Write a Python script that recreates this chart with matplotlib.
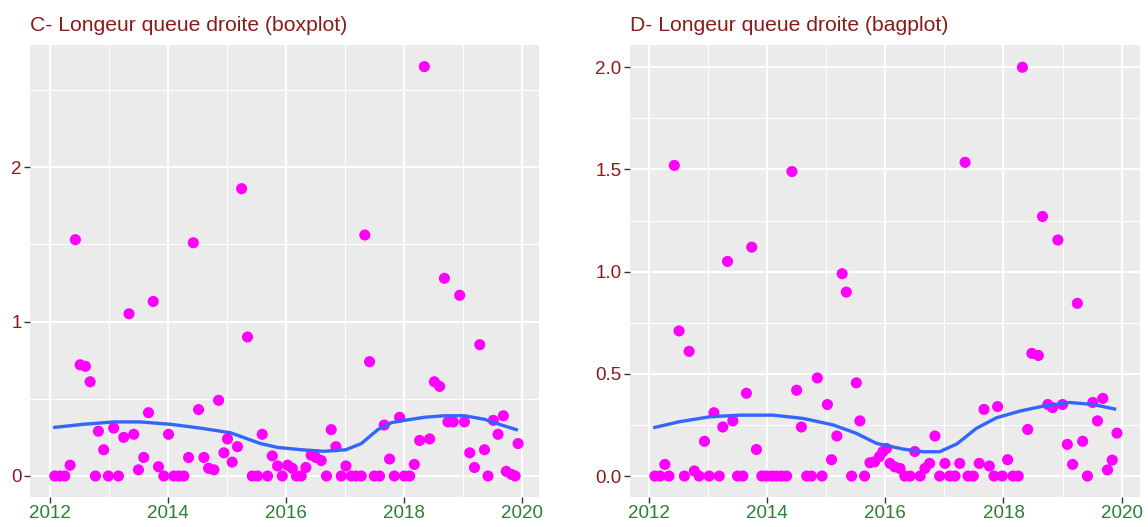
# Longueur queue droite : nuages de points + courbe lissée (deux panneaux)
import matplotlib
matplotlib.use("Agg")
import matplotlib.pyplot as plt
import numpy as np

# ---- panneau C (boxplot) : dates en années décimales
dates_c = [2012.08, 2012.17, 2012.25, 2012.34, 2012.43, 2012.51, 2012.60, 2012.68, 2012.77, 2012.82,
           2012.91, 2012.99, 2013.08, 2013.16, 2013.25, 2013.34, 2013.42, 2013.50, 2013.59, 2013.67,
           2013.75, 2013.84, 2013.93, 2014.01, 2014.10, 2014.18, 2014.27, 2014.35, 2014.43, 2014.52,
           2014.61, 2014.69, 2014.78, 2014.86, 2014.95, 2015.01, 2015.09, 2015.18, 2015.25, 2015.35,
           2015.43, 2015.52, 2015.60, 2015.69, 2015.77, 2015.86, 2015.94, 2016.03, 2016.11, 2016.18,
           2016.26, 2016.34, 2016.43, 2016.51, 2016.60, 2016.69, 2016.77, 2016.85, 2016.94, 2017.02,
           2017.11, 2017.19, 2017.28, 2017.34, 2017.42, 2017.50, 2017.59, 2017.67, 2017.76, 2017.84,
           2017.93, 2018.01, 2018.10, 2018.18, 2018.27, 2018.35, 2018.44, 2018.52, 2018.61, 2018.69,
           2018.75, 2018.84, 2018.95, 2019.03, 2019.12, 2019.20, 2019.29, 2019.37, 2019.43, 2019.52,
           2019.60, 2019.69, 2019.74, 2019.83, 2019.89, 2019.94]
vals_c = [0, 0, 0, 0.07, 1.53, 0.72, 0.71, 0.61, 0, 0.29,
          0.17, 0, 0.31, 0, 0.25, 1.05, 0.27, 0.04, 0.12, 0.41,
          1.13, 0.06, 0, 0.27, 0, 0, 0, 0.12, 1.51, 0.43,
          0.12, 0.05, 0.04, 0.49, 0.15, 0.24, 0.09, 0.19, 1.86, 0.90,
          0, 0, 0.27, 0, 0.13, 0.065, 0, 0.07, 0.05, 0,
          0, 0.055, 0.135, 0.12, 0.10, 0, 0.30, 0.19, 0, 0.065,
          0, 0, 0, 1.56, 0.74, 0, 0, 0.33, 0.11, 0,
          0.38, 0, 0, 0.075, 0.23, 2.65, 0.24, 0.61, 0.58, 1.28,
          0.35, 0.35, 1.17, 0.35, 0.15, 0.055, 0.85, 0.17, 0, 0.36,
          0.27, 0.39, 0.03, 0.01, 0, 0.21]
# courbe lissée
smooth_c_x = [2012.08, 2012.57, 2013.08, 2013.53, 2014.04, 2014.55, 2015.06, 2015.57, 2015.86,
              2016.26, 2016.65, 2017.02, 2017.28, 2017.56, 2017.79, 2018.01, 2018.35, 2018.69,
              2019.03, 2019.37, 2019.66, 2019.91]
smooth_c_y = [0.315, 0.335, 0.35, 0.35, 0.335, 0.31, 0.28, 0.21, 0.185,
              0.17, 0.16, 0.17, 0.21, 0.30, 0.345, 0.36, 0.38, 0.39,
              0.39, 0.367, 0.33, 0.30]

# ---- panneau D (bagplot)
dates_d = [2012.10, 2012.19, 2012.27, 2012.34, 2012.43, 2012.51, 2012.60, 2012.68, 2012.77, 2012.85,
           2012.94, 2013.02, 2013.10, 2013.19, 2013.25, 2013.33, 2013.42, 2013.50, 2013.59, 2013.65,
           2013.74, 2013.82, 2013.91, 2013.99, 2014.08, 2014.16, 2014.24, 2014.33, 2014.42, 2014.50,
           2014.58, 2014.67, 2014.75, 2014.85, 2014.93, 2015.02, 2015.09, 2015.18, 2015.27, 2015.34,
           2015.43, 2015.51, 2015.57, 2015.65, 2015.74, 2015.82, 2015.90, 2015.96, 2016.02, 2016.08,
           2016.16, 2016.25, 2016.33, 2016.42, 2016.50, 2016.59, 2016.67, 2016.75, 2016.84, 2016.92,
           2017.01, 2017.09, 2017.18, 2017.26, 2017.35, 2017.40, 2017.49, 2017.59, 2017.67, 2017.76,
           2017.84, 2017.90, 2017.98, 2018.07, 2018.16, 2018.25, 2018.32, 2018.41, 2018.48, 2018.59,
           2018.66, 2018.75, 2018.83, 2018.92, 2019.00, 2019.08, 2019.17, 2019.25, 2019.34, 2019.42,
           2019.51, 2019.59, 2019.68, 2019.76, 2019.84, 2019.92]
vals_d = [0, 0, 0.057, 0, 1.52, 0.71, 0, 0.61, 0.025, 0,
          0.17, 0, 0.31, 0, 0.24, 1.05, 0.27, 0, 0, 0.405,
          1.12, 0.13, 0, 0, 0, 0, 0, 0, 1.49, 0.42,
          0.24, 0, 0, 0.48, 0, 0.35, 0.08, 0.196, 0.99, 0.90,
          0, 0.456, 0.27, 0, 0.065, 0.07, 0.095, 0.12, 0.135, 0.062,
          0.045, 0.037, 0, 0, 0.12, 0, 0.037, 0.062, 0.196, 0,
          0.062, 0, 0, 0.062, 1.535, 0, 0, 0.062, 0.326, 0.049,
          0, 0.34, 0, 0.08, 0, 0, 2.0, 0.228, 0.60, 0.59,
          1.27, 0.35, 0.335, 1.155, 0.35, 0.155, 0.057, 0.845, 0.17, 0,
          0.36, 0.27, 0.38, 0.03, 0.078, 0.21]
smooth_d_x = [2012.10, 2012.52, 2013.03, 2013.54, 2014.10, 2014.61, 2015.12, 2015.51, 2015.85,
              2016.30, 2016.64, 2016.92, 2017.21, 2017.54, 2017.88, 2018.28, 2018.67, 2019.12,
              2019.52, 2019.88]
smooth_d_y = [0.238, 0.266, 0.29, 0.298, 0.298, 0.282, 0.25, 0.209, 0.16,
              0.132, 0.119, 0.119, 0.157, 0.233, 0.285, 0.318, 0.342, 0.36,
              0.35, 0.328]

titre_c = "C- Longeur queue droite (boxplot)"
titre_d = "D- Longeur queue droite (bagplot)"

plt.rcParams['font.family'] = ['Liberation Sans', 'DejaVu Sans']

W, H = 1148, 527
fig = plt.figure(figsize=(W / 100, H / 100), dpi=100)
fig.patch.set_facecolor('white')

rouge = '#8B1A1A'
vert = '#2E7D32'


def panneau(rect, x, y, sx, sy, xlim, ylim, yticks, yminor, ylabels, titre, tx):
    ax = fig.add_axes(rect)
    ax.set_facecolor('#EBEBEB')
    for s in ax.spines.values():
        s.set_visible(False)
    ax.set_xticks([2012, 2014, 2016, 2018, 2020])
    ax.set_xticklabels(['2012', '2014', '2016', '2018', '2020'])
    ax.set_xticks([2013, 2015, 2017, 2019], minor=True)
    ax.set_yticks(yticks)
    ax.set_yticklabels(ylabels)
    ax.set_yticks(yminor, minor=True)
    ax.grid(which='major', color='white', lw=1.4)
    ax.grid(which='minor', color='white', lw=0.7)
    ax.set_axisbelow(True)
    ax.tick_params(which='major', length=4, width=1, color='#333333', pad=2, labelsize=13.5)
    ax.tick_params(which='minor', length=0)
    ax.tick_params(axis='x', labelcolor=vert)
    ax.tick_params(axis='y', labelcolor=rouge)
    ax.scatter(x, y, s=64, color='#FF00FF', edgecolors='none', zorder=3)
    ax.plot(sx, sy, color='#3366FF', lw=2.4, zorder=4)
    # les limites après les graduations, sinon elles s'élargissent
    ax.set_xlim(*xlim)
    ax.set_ylim(*ylim)
    fig.text(tx, 1 - 30.7 / H, titre, color=rouge, fontsize=15.2, va='baseline', ha='left')
    return ax


bas = 1 - 496.7 / H
haut = (496.7 - 45) / H

panneau([30 / W, bas, 509.3 / W, haut], dates_c, vals_c, smooth_c_x, smooth_c_y,
        (2011.66, 2020.30), (-0.134, 2.79), [0, 1, 2], [0.5, 1.5, 2.5],
        ['0', '1', '2'], titre_c, 30 / W)
panneau([630 / W, bas, 510 / W, haut], dates_d, vals_d, smooth_d_x, smooth_d_y,
        (2011.68, 2020.31), (-0.101, 2.109), [0, 0.5, 1, 1.5, 2], [0.25, 0.75, 1.25, 1.75],
        ['0.0', '0.5', '1.0', '1.5', '2.0'], titre_d, 630 / W)

plt.savefig('out.png', dpi=100)
